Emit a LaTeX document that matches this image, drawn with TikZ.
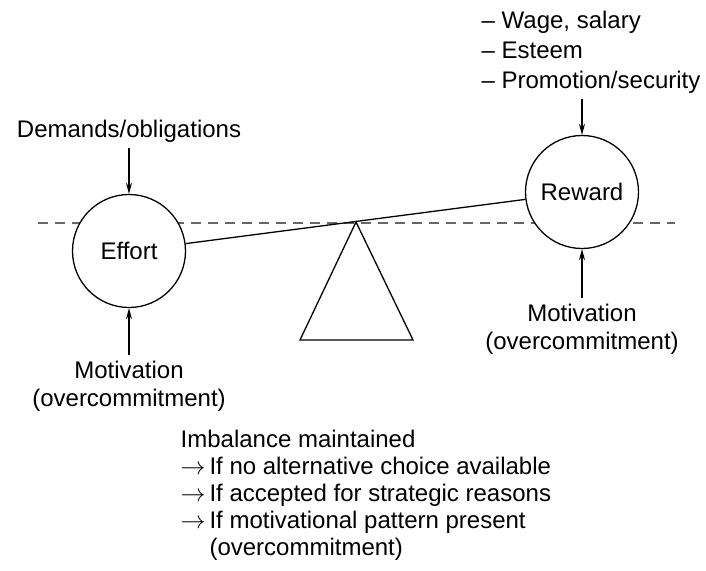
\documentclass[tikz,border=0pt]{standalone}
\usepackage{fontspec}
\setmainfont{Liberation Sans}
\usetikzlibrary{positioning, arrows.meta}

\begin{document}
\begin{tikzpicture}[
    x=1pt, y=-1pt,
    line width=1.3pt,
    every node/.style={font=\fontsize{24}{28}\selectfont},
    weight/.style={draw, circle, fill=white, minimum size=113pt, inner sep=0pt},
    caption/.style={align=center, inner sep=5pt},
    push/.style={-{Stealth[length=11pt,width=6pt]}}
]
    \useasboundingbox (0,0) rectangle (706,570);

    % Level line behind the scale
    \coordinate (levelL) at (38,223);
    \coordinate (levelR) at (675,223);
    \draw[black!60, dash pattern=on 10pt off 7pt] (levelL) -- (levelR);

    % Fulcrum
    \coordinate (pivot) at (356,222);
    \coordinate (baseL) at (300,340);
    \coordinate (baseR) at (413,340);
    \draw (pivot) -- (baseL) -- (baseR) -- cycle;

    % The two weights on the beam
    \node[weight] (effort) at (129,251) {Effort};
    \node[weight] (reward) at (582,192) {Reward};
    \draw (effort) -- (reward);

    % Inputs to effort
    \node[caption] (demands) at (129,131) {Demands/obligations};
    \node[caption] (motivL) at (129,386) {Motivation\\(overcommitment)};
    \draw[push] (demands) -- (effort);
    \draw[push] (motivL) -- (effort);

    % Inputs to reward
    \node[caption, align=left] (rewards) at (591,52) {-- Wage, salary\\[2pt]-- Esteem\\[2pt]-- Promotion/security};
    \node[caption] (motivR) at (582,329) {Motivation\\(overcommitment)};
    \draw[push] (rewards.south -| reward) -- (reward);
    \draw[push] (motivR) -- (reward);

    % Conditions
    \node[align=left, anchor=west, inner sep=0pt, font=\fontsize{24}{27}\selectfont] (imbalance) at (180,495)
        {Imbalance maintained\\
         $\rightarrow$\,If no alternative choice available\\
         $\rightarrow$\,If accepted for strategic reasons\\
         $\rightarrow$\,If motivational pattern present\\
         \phantom{$\rightarrow$\,}(overcommitment)};
\end{tikzpicture}
\end{document}
